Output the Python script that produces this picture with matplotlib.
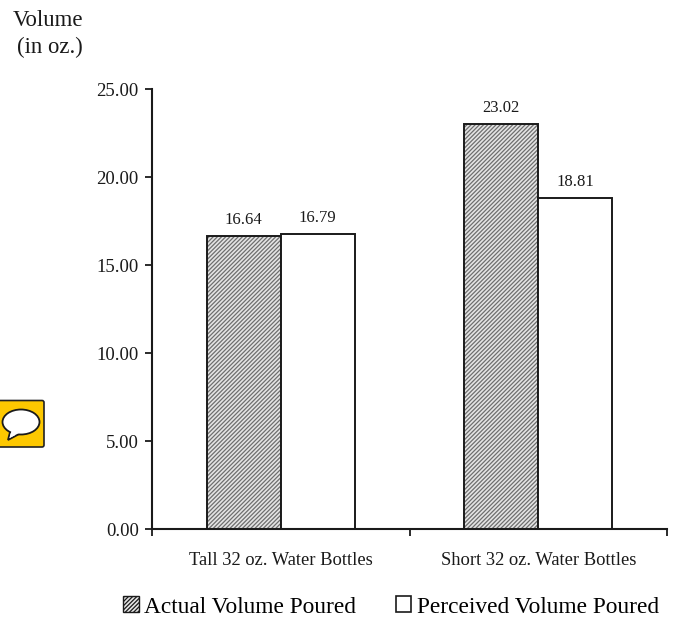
import matplotlib
matplotlib.use("Agg")
import matplotlib.pyplot as plt, numpy as np
from matplotlib.patches import Patch, FancyBboxPatch, Polygon, Ellipse

categories = ["Tall 32 oz. Water Bottles", "Short 32 oz. Water Bottles"]
actual = [16.64, 23.02]
perceived = [16.79, 18.81]
yticks = [0, 5, 10, 15, 20, 25]

plt.rcParams['font.family'] = ['Liberation Serif', 'DejaVu Serif']
plt.rcParams['hatch.linewidth'] = 0.9
plt.rcParams['hatch.color'] = '#6e6e6e'

W, H = 677, 619
INK = "#1a1a1a"
HATCH = "////////"
fig = plt.figure(figsize=(W/100, H/100), dpi=100)
ax = fig.add_axes([152/W, 1 - 529/H, (667-152)/W, (529-89.5)/H])

x = np.arange(2)
w = 0.287
ax.bar(x - w/2, actual, w, facecolor="#e4e4e4", edgecolor="#6e6e6e", hatch=HATCH, lw=0)
ax.bar(x - w/2, actual, w, facecolor="none", edgecolor=INK, lw=1.4)
ax.bar(x + w/2, perceived, w, facecolor="white", edgecolor=INK, lw=1.4)

for xi, a, p in zip(x, actual, perceived):
    ax.text(xi - w/2, a + 0.46, "%.2f" % a, ha="center", va="bottom", fontsize=12, color=INK)
    ax.text(xi + w/2, p + 0.46, "%.2f" % p, ha="center", va="bottom", fontsize=12, color=INK)

ax.set_xlim(-0.5, 1.5)
ax.set_ylim(0, 25)
ax.set_yticks(yticks)
ax.set_yticklabels(["%.2f" % t for t in yticks], fontsize=13.5, color=INK)
ax.set_xticks([-0.5, 0.5, 1.5])
ax.set_xticklabels(["", "", ""])
ax.tick_params(axis="y", direction="out", length=5, width=1.3, pad=4.5, color=INK)
ax.tick_params(axis="x", direction="out", length=5, width=1.3, color=INK)
ax.spines["top"].set_visible(False)
ax.spines["right"].set_visible(False)
ax.spines["left"].set_linewidth(1.5)
ax.spines["bottom"].set_linewidth(1.5)
ax.spines["left"].set_color(INK)
ax.spines["bottom"].set_color(INK)
for xi, c in zip(x, categories):
    ax.annotate(c, (xi, 0), xytext=(0, -16.5), textcoords="offset points", ha="center", va="top", fontsize=13.3, color=INK)

fig.text(48/W, 1 - 20/H, "Volume", ha="center", va="center", fontsize=16.4, color=INK)
fig.text(49.5/W, 1 - 47/H, "(in oz.)", ha="center", va="center", fontsize=16.4, color=INK)

# legend
handles = [Patch(facecolor="#e4e4e4", edgecolor=INK, hatch=HATCH, lw=1),
           Patch(facecolor="white", edgecolor=INK, lw=1.2)]
fig.legend(handles, ["Actual Volume Poured", "Perceived Volume Poured"], ncol=2, frameon=False,
           loc="center", bbox_to_anchor=(391/W, 1 - 607/H), fontsize=16.8,
           handlelength=0.66, handleheight=0.66, handletextpad=0.25, columnspacing=1.68)

# note icon at the left edge of the page
bg = fig.add_axes([0, 0, 1, 1], facecolor="none")
bg.set_xlim(0, W)
bg.set_ylim(H, 0)
bg.axis("off")
bg.add_patch(FancyBboxPatch((-3, 400.5), 47, 46.5, boxstyle="round,pad=0,rounding_size=2", fc="#fdc800", ec="#222222", lw=1.2))
bg.add_patch(Polygon([[11, 428], [8, 440], [21, 433]], fc="white", ec=INK, lw=1.3))
bg.add_patch(Ellipse((21, 422), 37, 25, fc="white", ec=INK, lw=1.3))
bg.add_patch(Polygon([[12, 429], [9.5, 438], [20, 432.5]], fc="white", ec="none"))

fig.savefig("out.png", dpi=100)
